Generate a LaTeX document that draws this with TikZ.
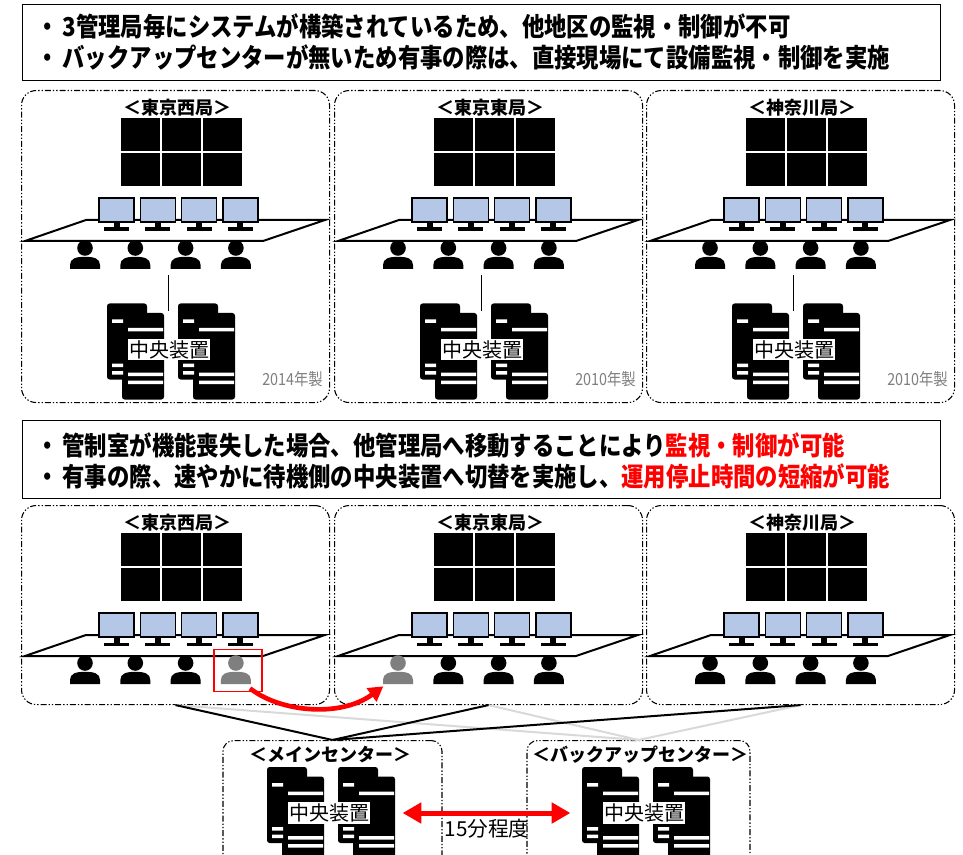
\documentclass[tikz,border=0pt]{standalone}
\usepackage{fontspec}
\setmainfont{Noto Sans CJK JP}
\newfontfamily\narrowjp{Noto Sans CJK JP}[FakeStretch=0.86]
\usetikzlibrary{arrows.meta, positioning}
\definecolor{screenblue}{HTML}{B4C7E7}
\definecolor{standbygray}{HTML}{7F7F7F}
\definecolor{linkgray}{HTML}{D9D9D9}
\definecolor{alertred}{HTML}{FF0000}

\tikzset{
  site/.style={draw, line width=0.8pt, dash pattern=on 4.5pt off 1.5pt on 1pt off 1.5pt on 1pt off 1.5pt, rounded corners=11pt, inner sep=0pt},
  notebox/.style={draw, line width=1.1pt, inner sep=0pt},
  notetext/.style={font=\narrowjp\bfseries\fontsize{19.5pt}{23.25pt}\selectfont, align=left, inner sep=0pt, anchor=west},
  roomtitle/.style={font=\bfseries\fontsize{13.5pt}{15pt}\selectfont, inner sep=0pt},
  devlabel/.style={fill=white, font=\fontsize{15pt}{17pt}\selectfont, inner sep=1pt},
  yearlabel/.style={text=standbygray, font=\narrowjp\fontsize{12.5pt}{14pt}\selectfont, inner sep=0pt, anchor=east},
  screen/.style={draw, fill=screenblue, line width=1.1pt},
  desk/.style={draw, line width=1.5pt, line join=miter},
  wire/.style={draw, line width=1.2pt},
  active/.style={draw, line width=1.5pt},
  standby/.style={draw=linkgray, line width=1.5pt},
  move/.style={draw=alertred, line width=3.5pt, -{Triangle[length=11pt,width=12pt]}},
  sync/.style={draw=alertred, line width=3.75pt, {Triangle[length=14pt,width=15pt]}-{Triangle[length=14pt,width=15pt]}}
}

\begin{document}
\begin{tikzpicture}[x=0.75pt, y=-0.75pt]
  \clip (0,0) rectangle (963,855);
  \fill[white] (0,0) rectangle (963,855);

  % Summary box, current setup
  \node[notebox, anchor=north west, minimum width=688.5pt, minimum height=57pt] (note-now) at (22,4) {};
  \node[notetext] (note-now-text) at (36,42) {・\hspace{3pt}3管理局毎にシステムが構築されているため、他地区の監視・制御が不可\\
    ・\hspace{3pt}バックアップセンターが無いため有事の際は、直接現場にて設備監視・制御を実施};

  % Summary box, after the change
  \node[notebox, anchor=north west, minimum width=688.5pt, minimum height=58.5pt] (note-new) at (22,420) {};
  \node[notetext] (note-new-text) at (36,461) {・\hspace{3pt}管制室が機能喪失した場合、他管理局へ移動することにより\textcolor{alertred}{監視・制御が可能}\\
    ・\hspace{3pt}有事の際、速やかに待機側の中央装置へ切替を実施し、\textcolor{alertred}{運用停止時間の短縮が可能}};

  % Control rooms: top row with local central units, bottom row shared
  \foreach \id/\px/\py/\hgt/\ttl/\yr/\grey in {t1/21/90/312/東京西局/2014/0, t2/334/90/312/東京東局/2010/0, t3/646/90/312/神奈川局/2010/0,
      b1/21/505/199/東京西局/0/4, b2/334/505/199/東京東局/0/1, b3/646/505/199/神奈川局/0/0} {
    \begin{scope}[shift={(\px,\py)}]
      \node[site, anchor=north west, minimum width=231pt, minimum height=\hgt*0.75pt] (room-\id) at (0,0) {};
      \node[roomtitle] (title-\id) at (156,17.5) {＜\ttl＞};
      % video wall 3x2
      \foreach \wc in {0,1,2}
        \foreach \wr in {0,1}
          \fill (99.5+\wc*41.2,28+\wr*34.7) rectangle +(39.4,33);
      % desk and operator screens
      \draw[desk] (65,130) -- (304,130) -- (242,151) -- (4,151) -- cycle;
      \foreach \mon in {0,...,3} {
        \draw[screen] (78+\mon*41.3,108) rectangle +(35,24);
        \fill (92.5+\mon*41.3,132) rectangle +(6,6);
        \fill (83+\mon*41.3,137.5) rectangle +(25,3.5);
      }
      % operators
      \foreach \p in {1,...,4} {
        \ifnum\p=\grey\relax \def\pc{standbygray}\else \def\pc{black}\fi
        \pgfmathsetmacro\ox{64+50.3*(\p-1)}
        \fill[\pc] (\ox,158) circle[radius=7.8];
        \fill[\pc] (\ox-15,179) -- (\ox-15,175) .. controls (\ox-15,168.5) and (\ox-9,166.8) .. (\ox,166.8)
          .. controls (\ox+9,166.8) and (\ox+15,168.5) .. (\ox+15,175) -- (\ox+15,179) -- cycle;
        \coordinate (op-\id-\p) at (\ox,172);
      }
      \ifnum\hgt>250
        \coordinate (desk-\id) at (147.5,185);
        \coordinate (rack-\id) at (147.5,221);
        \draw[wire] (desk-\id) -- (rack-\id);
        \node[yearlabel] (year-\id) at (302,289) {\yr 年製};
      \fi
    \end{scope}
  }

  % Main and backup centers
  \node[site, rounded corners=8pt, anchor=north, minimum width=164.25pt, minimum height=97.5pt] (main) at (332.5,740) {};
  \node[site, rounded corners=8pt, anchor=north, minimum width=167.25pt, minimum height=97.5pt] (backup) at (638.5,740) {};
  \node[roomtitle] (main-title) at (330,755) {＜メインセンター＞};
  \node[roomtitle] (backup-title) at (640,755) {＜バックアップセンター＞};

  % Central units, two towers each
  \foreach \sx/\sy/\nm in {107/303.5/unit-t1, 420/303.5/unit-t2, 732/303.5/unit-t3, 267/767/unit-main, 582/767/unit-backup} {
    \begin{scope}[shift={(\sx,\sy)}]
      \foreach \tw in {0,71} {
        \fill[rounded corners=2pt] (\tw,0) rectangle +(40,76);
        \fill[rounded corners=2pt] (\tw+15,9.5) rectangle +(42,86.5);
        \fill[white] (\tw+5,16) rectangle +(11,3.5)
                     (\tw+21,24.5) rectangle +(35,3.5)
                     (\tw+5,60) rectangle +(11,3.5)
                     (\tw+5,67.5) rectangle +(11,3.5)
                     (\tw+21,69) rectangle +(35,3.5)
                     (\tw+21,77) rectangle +(35,3.5);
      }
      \node[devlabel] (\nm) at (62,46) {中央装置};
    \end{scope}
  }

  % Links from the centers to every room
  \foreach \r in {b1,b2,b3}
    \draw[standby] (backup.north) -- (room-\r.south);
  \foreach \r in {b1,b2,b3}
    \draw[active] (main.north) -- (room-\r.south);

  % Operator moving to another room
  \node[draw=alertred, line width=0.8pt, minimum width=36pt, minimum height=32pt, inner sep=0pt] (moved) at (238,670.5) {};
  \draw[move] ([shift={(9pt,3pt)}]moved.south) .. controls (280,712) and (340,718) .. ([shift={(-11pt,-7pt)}]op-b2-1);

  % Switchover between centers
  \draw[sync] ([xshift=24pt]unit-main.east) -- ([xshift=-24pt]unit-backup.west);
  \node[font=\fontsize{15.5pt}{17pt}\selectfont, inner sep=0pt] (switch-time) at (487,829) {15分程度};
\end{tikzpicture}
\end{document}
